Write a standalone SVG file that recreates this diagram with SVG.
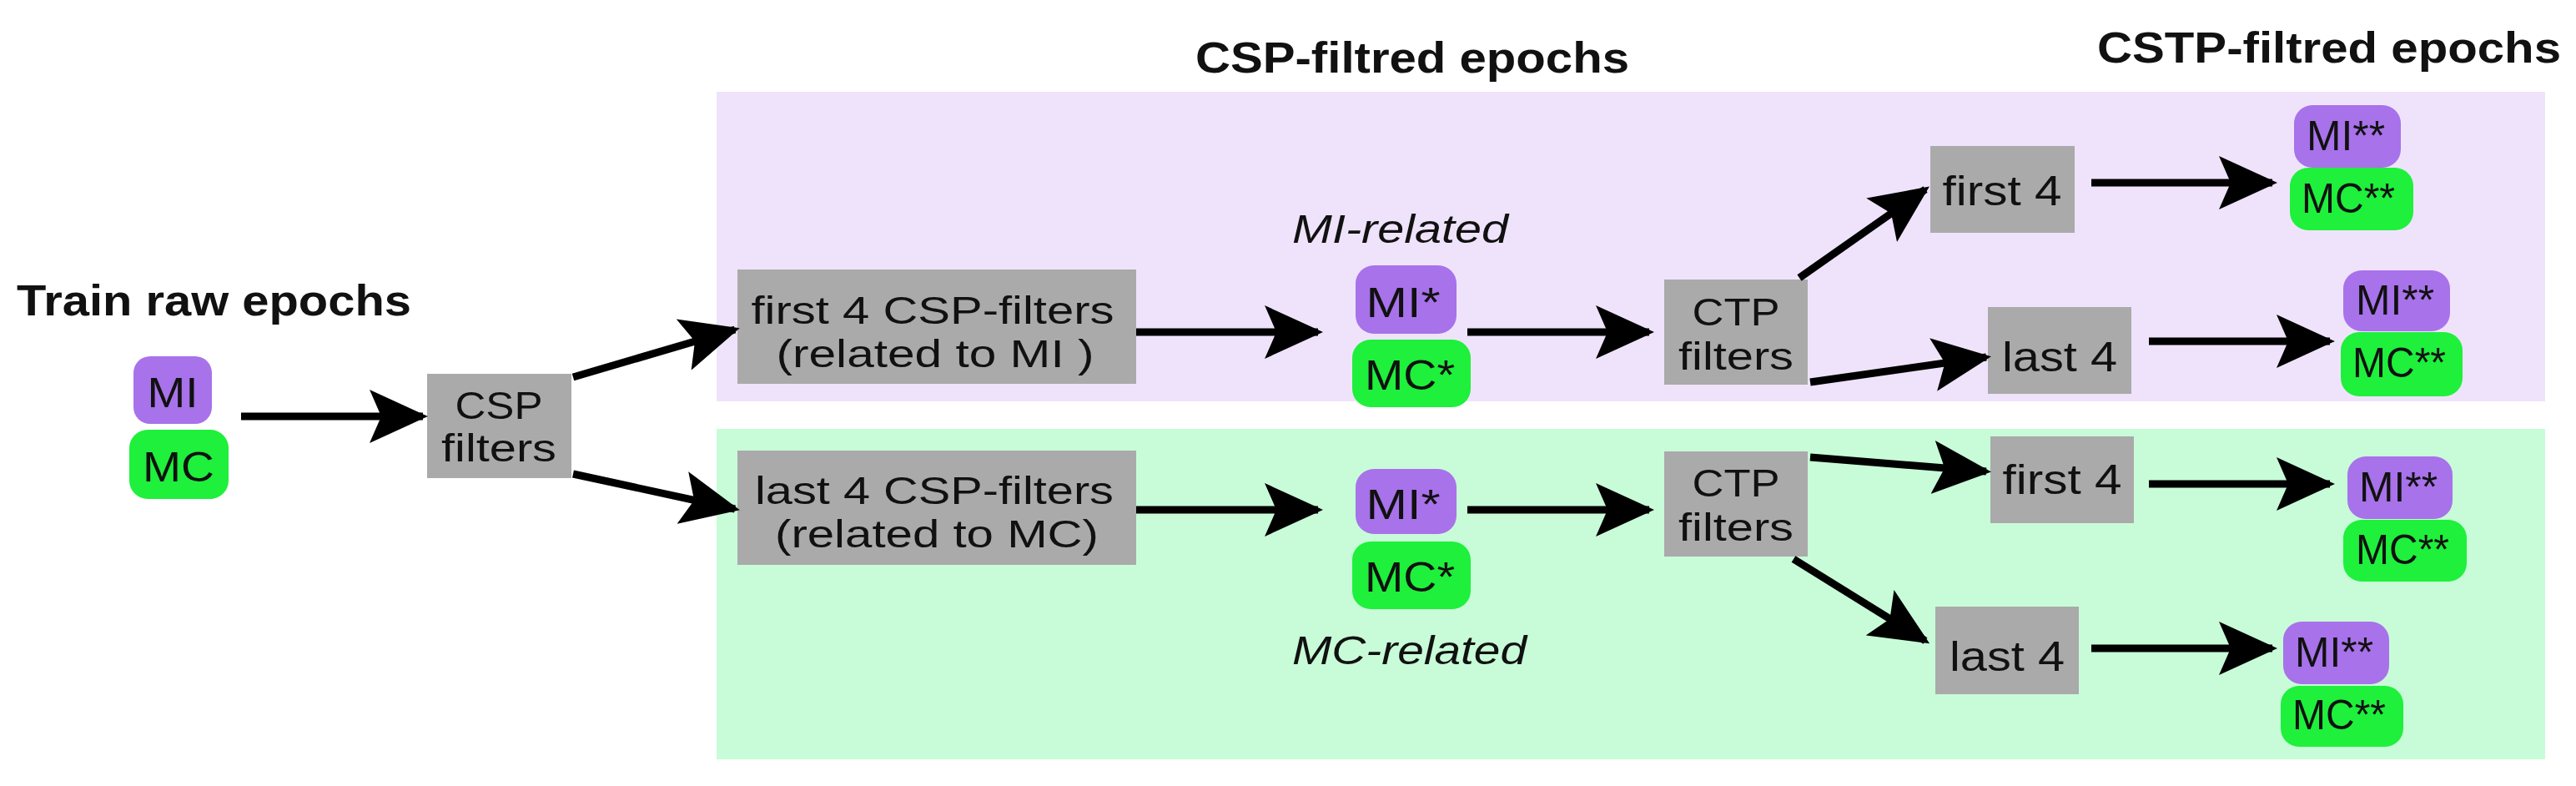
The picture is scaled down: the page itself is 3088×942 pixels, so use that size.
<svg xmlns="http://www.w3.org/2000/svg" width="3088" height="942" viewBox="0 0 3088 942">
<style>
text{font-family:"Liberation Sans",Arial,sans-serif;fill:#111}
.t{font-size:52px;font-weight:bold}
.b{font-size:50px;text-anchor:middle}
.s{font-size:46px}
.i{font-size:48px;font-style:italic}
.box{fill:#aaaaaa}
.pu{fill:#a872ea}
.gr{fill:#1ef03c}
.a{stroke:#000;stroke-width:9;fill:none;marker-end:url(#ah)}
</style>
<defs>
<marker id="ah" markerUnits="userSpaceOnUse" markerWidth="70" markerHeight="64" refX="64" refY="32" orient="auto">
<path d="M0,0 L70,32 L0,64 L14,32 z" fill="#000"/>
</marker>
</defs>
<rect x="859" y="110" width="2192" height="371" fill="#efe3fb"/>
<rect x="859" y="514" width="2192" height="396" fill="#c8fcd8"/>
<text class="t" x="20" y="378" textLength="473" lengthAdjust="spacingAndGlyphs">Train raw epochs</text>
<text class="t" x="1433" y="87" textLength="520" lengthAdjust="spacingAndGlyphs">CSP-filtred epochs</text>
<text class="t" x="2514" y="75" textLength="556" lengthAdjust="spacingAndGlyphs">CSTP-filtred epochs</text>
<text class="i" x="1549" y="291" textLength="259" lengthAdjust="spacingAndGlyphs">MI-related</text>
<text class="i" x="1549" y="796" textLength="281" lengthAdjust="spacingAndGlyphs">MC-related</text>
<g id="raw">
<rect class="pu" x="160" y="427" width="94" height="81" rx="20"/>
<rect class="gr" x="155" y="515" width="119" height="83" rx="22"/>
<text class="b" x="207" y="488" textLength="61" lengthAdjust="spacingAndGlyphs">MI</text>
<text class="b" x="214" y="577" textLength="86" lengthAdjust="spacingAndGlyphs">MC</text>
</g>
<g id="csp">
<rect class="box" x="512" y="448" width="173" height="125"/>
<text class="b s" x="598" y="502" textLength="105" lengthAdjust="spacingAndGlyphs">CSP</text>
<text class="b s" x="598" y="553" textLength="138" lengthAdjust="spacingAndGlyphs">filters</text>
</g>
<g id="first4csp">
<rect class="box" x="884" y="323" width="478" height="137"/>
<text class="b s" x="1118" y="388" textLength="435" lengthAdjust="spacingAndGlyphs">first 4 CSP-filters</text>
<text class="b s" x="1121" y="440" textLength="381" lengthAdjust="spacingAndGlyphs">(related to MI )</text>
</g>
<g id="last4csp">
<rect class="box" x="884" y="540" width="478" height="137"/>
<text class="b s" x="1120" y="604" textLength="430" lengthAdjust="spacingAndGlyphs">last 4 CSP-filters</text>
<text class="b s" x="1123" y="656" textLength="388" lengthAdjust="spacingAndGlyphs">(related to MC)</text>
</g>
<g id="mistar1">
<rect class="pu" x="1625" y="318" width="121" height="82" rx="22"/>
<rect class="gr" x="1621" y="407" width="142" height="81" rx="22"/>
<text class="b" x="1682" y="380" textLength="89" lengthAdjust="spacingAndGlyphs">MI*</text>
<text class="b" x="1690" y="467" textLength="108" lengthAdjust="spacingAndGlyphs">MC*</text>
</g>
<g id="mistar2">
<rect class="pu" x="1625" y="562" width="121" height="78" rx="22"/>
<rect class="gr" x="1621" y="649" width="142" height="81" rx="22"/>
<text class="b" x="1682" y="622" textLength="89" lengthAdjust="spacingAndGlyphs">MI*</text>
<text class="b" x="1690" y="709" textLength="108" lengthAdjust="spacingAndGlyphs">MC*</text>
</g>
<g id="ctp1">
<rect class="box" x="1995" y="335" width="172" height="126"/>
<text class="b s" x="2081" y="390" textLength="105" lengthAdjust="spacingAndGlyphs">CTP</text>
<text class="b s" x="2081" y="443" textLength="138" lengthAdjust="spacingAndGlyphs">filters</text>
</g>
<g id="ctp2">
<rect class="box" x="1995" y="541" width="172" height="126"/>
<text class="b s" x="2081" y="595" textLength="105" lengthAdjust="spacingAndGlyphs">CTP</text>
<text class="b s" x="2081" y="648" textLength="138" lengthAdjust="spacingAndGlyphs">filters</text>
</g>
<g id="f4a">
<rect class="box" x="2314" y="175" width="173" height="104"/>
<text class="b" x="2400" y="246" textLength="143" lengthAdjust="spacingAndGlyphs">first 4</text>
</g>
<g id="l4a">
<rect class="box" x="2383" y="368" width="172" height="104"/>
<text class="b" x="2469" y="445" textLength="138" lengthAdjust="spacingAndGlyphs">last 4</text>
</g>
<g id="f4b">
<rect class="box" x="2386" y="523" width="172" height="104"/>
<text class="b" x="2472" y="592" textLength="143" lengthAdjust="spacingAndGlyphs">first 4</text>
</g>
<g id="l4b">
<rect class="box" x="2320" y="727" width="172" height="105"/>
<text class="b" x="2406" y="804" textLength="138" lengthAdjust="spacingAndGlyphs">last 4</text>
</g>
<g id="out1">
<rect class="pu" x="2750" y="126" width="128" height="75" rx="22"/>
<rect class="gr" x="2745" y="201" width="148" height="75" rx="22"/>
<text class="b" x="2812" y="180" textLength="94" lengthAdjust="spacingAndGlyphs">MI**</text>
<text class="b" x="2815" y="255" textLength="112" lengthAdjust="spacingAndGlyphs">MC**</text>
</g>
<g id="out2">
<rect class="pu" x="2809" y="324" width="128" height="73" rx="22"/>
<rect class="gr" x="2806" y="398" width="146" height="77" rx="22"/>
<text class="b" x="2871" y="377" textLength="94" lengthAdjust="spacingAndGlyphs">MI**</text>
<text class="b" x="2876" y="452" textLength="112" lengthAdjust="spacingAndGlyphs">MC**</text>
</g>
<g id="out3">
<rect class="pu" x="2814" y="547" width="126" height="75" rx="22"/>
<rect class="gr" x="2809" y="623" width="148" height="74" rx="22"/>
<text class="b" x="2875" y="601" textLength="94" lengthAdjust="spacingAndGlyphs">MI**</text>
<text class="b" x="2880" y="676" textLength="112" lengthAdjust="spacingAndGlyphs">MC**</text>
</g>
<g id="out4">
<rect class="pu" x="2737" y="745" width="127" height="75" rx="22"/>
<rect class="gr" x="2734" y="822" width="147" height="73" rx="22"/>
<text class="b" x="2798" y="799" textLength="94" lengthAdjust="spacingAndGlyphs">MI**</text>
<text class="b" x="2804" y="874" textLength="112" lengthAdjust="spacingAndGlyphs">MC**</text>
</g>
<g id="connectors">
<line class="a" x1="289" y1="499" x2="507" y2="499"/>
<line class="a" x1="687" y1="452" x2="881" y2="395"/>
<line class="a" x1="687" y1="568" x2="881" y2="610"/>
<line class="a" x1="1362" y1="398" x2="1580" y2="398"/>
<line class="a" x1="1362" y1="611" x2="1580" y2="611"/>
<line class="a" x1="1759" y1="398" x2="1977" y2="398"/>
<line class="a" x1="1759" y1="611" x2="1977" y2="611"/>
<line class="a" x1="2157" y1="333" x2="2308" y2="227"/>
<line class="a" x1="2170" y1="458" x2="2381" y2="428"/>
<line class="a" x1="2170" y1="548" x2="2381" y2="565"/>
<line class="a" x1="2150" y1="670" x2="2308" y2="768"/>
<line class="a" x1="2507" y1="219" x2="2724" y2="219"/>
<line class="a" x1="2576" y1="409" x2="2793" y2="409"/>
<line class="a" x1="2576" y1="580" x2="2793" y2="580"/>
<line class="a" x1="2507" y1="777" x2="2724" y2="777"/>
</g>
</svg>
